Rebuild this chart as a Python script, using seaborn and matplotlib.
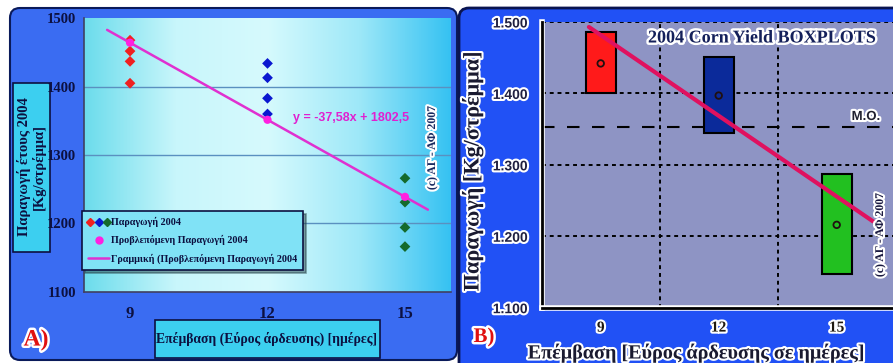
import matplotlib
matplotlib.use("Agg")
import matplotlib.pyplot as plt
import numpy as np
import pandas as pd
import seaborn as sns
from matplotlib import patheffects as pe
from matplotlib.patches import FancyBboxPatch, Rectangle
from matplotlib.legend_handler import HandlerTuple
from matplotlib.lines import Line2D
from matplotlib.colors import LinearSegmentedColormap
from matplotlib import font_manager

# ---- data (kg / stremma) ----
days = [9, 12, 15]
yield_9 = [1468, 1452, 1437, 1405]
yield_12 = [1434, 1413, 1383, 1360]
yield_15 = [1266, 1231, 1194, 1166]
group_colors = ["#f02020", "#0a18d0", "#146a2c"]

# linear fit shown in panel A
slope, intercept = -37.58, 1802.5
fit_days = [8.5, 15.5]

# panel B boxes
box_low = [1400, 1344, 1147]
box_high = [1486, 1451, 1287]
box_mean = [1442, 1397, 1216]
box_colors = ["#ff1a1a", "#0b2a9a", "#22c020"]
mean_all = 1353
trend_b_days = [8.7, 15.92]
trend_b_yield = [1493, 1221]

W, H = 893, 363

sns.set_style("white")
plt.rcParams["font.family"] = ["Liberation Serif", "DejaVu Serif"]
installed = {f.name for f in font_manager.fontManager.ttflist}
narrow = "Liberation Sans Narrow" if "Liberation Sans Narrow" in installed else "Liberation Sans"


def box(x0, y0, x1, y1):
    # pixel box -> figure fraction
    return [x0 / W, 1 - y1 / H, (x1 - x0) / W, (y1 - y0) / H]


white_edge = [pe.withStroke(linewidth=3, foreground="white")]
navy = "#0c1040"

fig = plt.figure(figsize=(W / 100, H / 100), dpi=100)

# background layer in pixel coords
bg = fig.add_axes([0, 0, 1, 1])
bg.set_xlim(0, W)
bg.set_ylim(H, 0)
bg.axis("off")
bg.add_patch(FancyBboxPatch((10, 8), 447, 352, boxstyle="round,pad=0,rounding_size=10",
                            fc="#3a6cf2", ec="#0a1a5a", lw=1.5))
bg.add_patch(FancyBboxPatch((459, 8), 450, 370, boxstyle="round,pad=0,rounding_size=10",
                            fc="#2151f5", ec="#0a1450", lw=2))
bg.add_patch(Rectangle((13, 83), 37, 169, fc="#3ccff0", ec=navy, lw=1.2))
bg.add_patch(Rectangle((155, 320), 225, 38, fc="#3ccff0", ec=navy, lw=1.2))

# ---------------- panel A ----------------
ax1 = fig.add_axes(box(84.2, 18.3, 450.8, 291.7))
cmap = LinearSegmentedColormap.from_list("cy", ["#6cdcec", "#c8f6fb", "#d6fafd", "#9ee8f8", "#36c2f2"])
grad = np.tile(np.linspace(0, 1, 256), (32, 1))
ax1.imshow(grad, cmap=cmap, extent=[0, 1, 0, 1], transform=ax1.transAxes, aspect="auto", zorder=0)

points = pd.DataFrame({
    "day": [9] * len(yield_9) + [12] * len(yield_12) + [15] * len(yield_15),
    "yield": yield_9 + yield_12 + yield_15,
    "group": ["9"] * len(yield_9) + ["12"] * len(yield_12) + ["15"] * len(yield_15),
})
for y in [1200, 1300, 1400]:
    ax1.axhline(y, color="#5a90c0", lw=1, zorder=1)

fit_vals = [slope * d + intercept for d in fit_days]
pred_vals = [slope * d + intercept for d in days]
sns.scatterplot(data=points, x="day", y="yield", hue="group", palette=group_colors,
                marker="D", s=30, edgecolor="none", legend=False, ax=ax1, zorder=3)
sns.lineplot(x=fit_days, y=fit_vals, color="#e030d0", lw=1.8, ax=ax1, zorder=4)
sns.scatterplot(x=days, y=pred_vals, color="#ff20e0", s=35, edgecolor="none", ax=ax1, zorder=5)

ax1.set_xlim(8, 16)
ax1.set_ylim(1100, 1500)
ax1.set_xticks(range(8, 17), minor=True)
ax1.set_xticks(days)
ax1.set_yticks([1100, 1200, 1300, 1400, 1500])
ax1.set_yticks(range(1100, 1501, 25), minor=True)
ax1.tick_params(which="major", direction="out", length=5, width=1.2, color="#303050")
ax1.tick_params(which="minor", direction="out", length=3, width=1, color="#303050")
ax1.tick_params(axis="x", labelsize=12, pad=5)
ax1.tick_params(axis="y", labelsize=10.5, pad=1)
for lab in ax1.get_xticklabels() + ax1.get_yticklabels():
    lab.set_fontweight("bold")
    lab.set_color(navy)
for s in ["top", "right"]:
    ax1.spines[s].set_visible(False)
for s in ["left", "bottom"]:
    ax1.spines[s].set_color("#404060")
    ax1.spines[s].set_linewidth(1.2)
ax1.set_xlabel("")
ax1.set_ylabel("")

handles = [
    tuple(Line2D([], [], marker="D", ls="", color=c, markersize=4.5) for c in group_colors),
    Line2D([], [], marker="o", ls="", color="#ff20e0", markersize=5),
    Line2D([], [], color="#e030d0", lw=1.8),
]
labels = ["Παραγωγή 2004", "Προβλεπόμενη Παραγωγή 2004", "Γραμμική (Προβλεπόμενη Παραγωγή 2004"]
leg = ax1.legend(handles, labels, handler_map={tuple: HandlerTuple(ndivide=None, pad=0.4)},
                 loc="upper left", bbox_to_anchor=(-0.005, 0.295), borderaxespad=0,
                 frameon=True, fancybox=False, shadow=True, handlelength=2.0, handletextpad=0.2,
                 labelspacing=0.8, borderpad=0.6, prop={"weight": "bold", "size": 7.3})
leg.get_frame().set_facecolor("#80e2f6")
leg.get_frame().set_edgecolor(navy)
leg.get_frame().set_linewidth(1.2)
leg.get_frame().set_alpha(1)
for t in leg.get_texts():
    t.set_color(navy)

# ---------------- panel B ----------------
ax2 = fig.add_axes(box(541.7, 22, 895.7, 307.7))
ax2.set_facecolor("#8e94c4")
heights = [h - l for h, l in zip(box_high, box_low)]
ax2.bar(days, heights, bottom=box_low, width=0.76, color=box_colors, edgecolor="black",
        lw=1.5, zorder=3)
sns.scatterplot(x=days, y=box_mean, hue=[str(d) for d in days], palette=box_colors,
                marker="o", s=22, edgecolor="#201010", linewidth=1.3, legend=False, ax=ax2, zorder=4)
sns.lineplot(x=trend_b_days, y=trend_b_yield, color="#e0115f", lw=3, ax=ax2, zorder=5)

for y in [1200, 1300, 1400, 1500]:
    ax2.axhline(y, color="black", lw=1.4, ls=(0, (2, 2)), zorder=1)
for x in [10.5, 13.5]:
    ax2.axvline(x, color="black", lw=1.4, ls=(0, (2, 2)), zorder=1)
ax2.axhline(mean_all, color="black", lw=1.5, ls=(0, (6, 6)), zorder=2)

ax2.set_xlim(7.5, 16.5)
ax2.set_ylim(1100, 1500)
ax2.set_xticks(days)
ax2.set_yticks([1100, 1200, 1300, 1400, 1500])
ax2.set_yticklabels([f"{v / 1000:.3f}" for v in [1100, 1200, 1300, 1400, 1500]])
ax2.tick_params(axis="y", direction="out", length=9, width=2, color="black", labelsize=10, pad=1)
ax2.tick_params(axis="x", direction="out", length=10, width=2, color="black", labelsize=11, pad=0)
for lab in ax2.get_yticklabels():
    lab.set_fontfamily("Liberation Sans")
    lab.set_fontweight("bold")
    lab.set_color("#202040")
    lab.set_path_effects(white_edge)
for lab in ax2.get_xticklabels():
    lab.set_fontweight("bold")
    lab.set_color("#201a10")
    lab.set_path_effects(white_edge)
for tk in ax2.xaxis.get_major_ticks() + ax2.yaxis.get_major_ticks():
    tk.tick1line.set_path_effects([pe.Stroke(linewidth=4, foreground="white"), pe.Normal()])
for s in ["top", "right"]:
    ax2.spines[s].set_visible(False)
for s in ["left", "bottom"]:
    ax2.spines[s].set_color("black")
    ax2.spines[s].set_linewidth(2)
    ax2.spines[s].set_path_effects([pe.Stroke(linewidth=4, foreground="white"), pe.Normal()])
ax2.set_xlabel("")
ax2.set_ylabel("")

# ---------------- texts (pixel coords) ----------------
fg = fig.add_axes([0, 0, 1, 1], zorder=10)
fg.set_xlim(0, W)
fg.set_ylim(H, 0)
fg.axis("off")
fg.patch.set_alpha(0)

fg.text(31.5, 167, "Παραγωγή έτους 2004\n[Kg/στρέμμα]", rotation=90, ha="center", va="center",
        fontsize=10.5, fontweight="bold", color=navy, linespacing=1.05)
fg.text(267, 339, "Επέμβαση (Εύρος άρδευσης) [ημέρες]", ha="center", va="center",
        fontsize=9.8, fontweight="bold", color=navy)
fg.text(351, 118, "y = -37,58x + 1802,5", ha="center", va="center", fontsize=9,
        fontweight="bold", color="#e020d0", family=narrow)
fg.text(432, 148, "(c) ΑΓ - ΑΦ 2007", rotation=90, ha="center", va="center", fontsize=8.5,
        fontweight="bold", color="#1a2a60", path_effects=white_edge)
fg.text(36, 340, "A)", ha="center", va="center", fontsize=17, fontweight="bold",
        color="#e01010", path_effects=[pe.withStroke(linewidth=3.5, foreground="white")])

fg.text(648, 38, "2004 Corn Yield BOXPLOTS", ha="left", va="center", fontsize=13,
        fontweight="bold", color="#14205a",
        path_effects=[pe.withStroke(linewidth=3.5, foreground="white")])
fg.text(866, 117, "M.O.", ha="center", va="center", fontsize=9.5, fontweight="bold",
        family="Liberation Sans", color="#202030", path_effects=white_edge)
fg.text(880, 235, "(c) ΑΓ - ΑΦ 2007", rotation=90, ha="center", va="center", fontsize=8.5,
        fontweight="bold", color="#1a1a40", path_effects=white_edge)
fg.text(473, 171, "Παραγωγή [Kg/στρέμμα]", rotation=90, ha="center", va="center",
        fontsize=16, fontweight="bold", color="#1a1a30", path_effects=white_edge)
fg.text(696, 353, "Επέμβαση [Εύρος άρδευσης σε ημέρες]", ha="center", va="center",
        fontsize=14.5, fontweight="bold", color="#1a1a30", path_effects=white_edge)
fg.text(484, 337, "B)", ha="center", va="center", fontsize=15, fontweight="bold",
        color="#e01010", path_effects=[pe.withStroke(linewidth=3.5, foreground="white")])

fig.savefig("out.png", dpi=100)
